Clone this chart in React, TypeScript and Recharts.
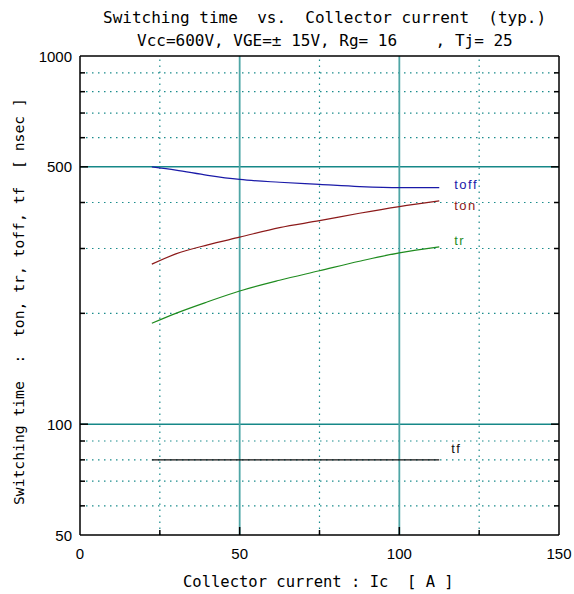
import React from "react";
import {
  LineChart,
  Line,
  XAxis,
  YAxis,
  ReferenceLine,
} from "recharts";

// ---------- data ----------
const currents = [22.5, 30, 40, 50, 62.5, 75, 87.5, 100, 112.5];
const toffValues = [500, 490, 474, 462, 454, 448, 442, 439, 439];
const tonValues = [272, 290, 307, 322, 342, 357, 374, 390, 404];
const trValues = [188, 200, 215, 230, 246, 261, 277, 292, 303];
const tfValues = [80, 80, 80, 80, 80, 80, 80, 80, 80];

const xTicks = [0, 25, 50, 75, 100, 125, 150];
const xTickLabels = [0, 50, 100, 150];
const yTicks = [50, 60, 70, 80, 90, 100, 200, 300, 400, 500, 600, 700, 800, 900, 1000];
const yTickLabels = [50, 100, 500, 1000];
const yMajorGrid = [100, 500];
const yMinorGrid = [60, 70, 80, 90, 200, 300, 400, 600, 700, 800, 900];
const xMajorGrid = [50, 100];
const xMinorGrid = [25, 75, 125];

const titleLine1 = "Switching time  vs.  Collector current  (typ.)";
const titleLine2 = "Vcc=600V, VGE=\u00b1 15V, Rg= 16    , Tj= 25";
const xLabel = "Collector current : Ic  [ A ]";
const yLabel = "Switching time  :  ton, tr, toff, tf  [ nsec ]";

const data = currents.map((ic, i) => ({
  ic,
  toff: toffValues[i],
  ton: tonValues[i],
  tr: trValues[i],
  tf: tfValues[i],
}));

const series = [
  { key: "toff", name: "toff", color: "#1a1aa8", dx: 15, dy: 1 },
  { key: "ton", name: "ton", color: "#8c1a1a", dx: 15, dy: 9 },
  { key: "tr", name: "tr", color: "#1f8c1f", dx: 15, dy: -2 },
  { key: "tf", name: "tf", color: "#111111", dx: 12, dy: -7 },
];

const MONO = "'DejaVu Sans Mono', 'Liberation Mono', monospace";
const SANS = "'Liberation Sans', Arial, sans-serif";
const GRID = "#1b8c8c";
const PRE: React.CSSProperties = { whiteSpace: "pre" };

const LeftTick = (props: any) => {
  const { x, y, payload } = props;
  const v = payload.value;
  const labelled = yTickLabels.includes(v);
  const len = labelled ? 8 : 5;
  const ax = x + 8;
  return (
    <g>
      {v !== 50 && v !== 1000 && (
        <line x1={ax} x2={ax + len} y1={y} y2={y} stroke="#000" strokeWidth={1.5} />
      )}
      {labelled && (
        <text x={x} y={y + 5.5} textAnchor="end" fontFamily={SANS} fontSize={15} fill="#000">
          {v}
        </text>
      )}
    </g>
  );
};

const RightTick = (props: any) => {
  const { x, y, payload } = props;
  const v = payload.value;
  if (v === 50 || v === 1000) return <g />;
  const len = yTickLabels.includes(v) ? 8 : 5;
  return <line x1={x} x2={x - len} y1={y} y2={y} stroke="#000" strokeWidth={1.5} />;
};

const BottomTick = (props: any) => {
  const { x, y, payload } = props;
  const v = payload.value;
  const labelled = xTickLabels.includes(v);
  const ay = y;
  return (
    <g>
      {v !== 0 && v !== 150 && (
        <line x1={x} x2={x} y1={ay} y2={ay - (labelled ? 8 : 5)} stroke="#000" strokeWidth={1.5} />
      )}
      {labelled && (
        <text x={x} y={ay + 24} textAnchor="middle" fontFamily={SANS} fontSize={15} fill="#000">
          {v}
        </text>
      )}
    </g>
  );
};

const makeEndLabel = (s: typeof series[number]) => (props: any) => {
  const { x, y, index } = props;
  if (index !== data.length - 1) return null;
  return (
    <text
      x={x + s.dx}
      y={y + s.dy}
      fontFamily={SANS}
      fontSize={13}
      letterSpacing={1.5}
      fill={s.color}
    >
      {s.name}
    </text>
  );
};

export default function App() {
  return (
    <div style={{ position: "absolute", left: 0, top: 0, width: 574, height: 594, background: "#fff" }}>
      <LineChart
        width={574}
        height={594}
        data={data}
        margin={{ top: 56, right: 0, bottom: 0, left: 0 }}
      >
        <XAxis
          dataKey="ic"
          type="number"
          domain={[0, 150]}
          ticks={xTicks}
          height={59}
          tickSize={0}
          tickMargin={0}
          tickLine={false}
          axisLine={{ stroke: "#000", strokeWidth: 1.5 }}
          tick={<BottomTick />}
          interval={0}
        />
        <YAxis
          yAxisId="left"
          scale="log"
          domain={[50, 1000]}
          allowDataOverflow
          ticks={yTicks}
          width={80}
          tickSize={0}
          tickMargin={8}
          tickLine={false}
          axisLine={{ stroke: "#000", strokeWidth: 1.5 }}
          tick={<LeftTick />}
          interval={0}
        />
        <YAxis
          yAxisId="right"
          orientation="right"
          scale="log"
          domain={[50, 1000]}
          allowDataOverflow
          ticks={yTicks}
          width={15}
          tickSize={0}
          tickMargin={0}
          tickLine={false}
          axisLine={{ stroke: "#000", strokeWidth: 1.5 }}
          tick={<RightTick />}
          interval={0}
        />
        {yMinorGrid.map((v) => (
          <ReferenceLine key={"ym" + v} yAxisId="left" y={v} stroke={GRID} strokeWidth={1.2} strokeDasharray="1.5 4.5" />
        ))}
        {xMinorGrid.map((v) => (
          <ReferenceLine key={"xm" + v} yAxisId="left" x={v} stroke={GRID} strokeWidth={1.2} strokeDasharray="1.5 4.5" />
        ))}
        {yMajorGrid.map((v) => (
          <ReferenceLine key={"yM" + v} yAxisId="left" y={v} stroke="#168888" strokeWidth={1.5} />
        ))}
        {xMajorGrid.map((v) => (
          <ReferenceLine key={"xM" + v} yAxisId="left" x={v} stroke="#4fa6a6" strokeWidth={1.8} />
        ))}
        <ReferenceLine yAxisId="left" y={1000} stroke="#000" strokeWidth={1.5} />
        {series.map((s) => (
          <Line
            key={s.key}
            yAxisId="left"
            dataKey={s.key}
            type="monotone"
            stroke={s.color}
            strokeWidth={1.2}
            dot={false}
            isAnimationActive={false}
            label={makeEndLabel(s)}
          />
        ))}
      </LineChart>
      <svg
        width={574}
        height={594}
        style={{ position: "absolute", left: 0, top: 0, pointerEvents: "none" }}
      >
        <text x={103} y={23} xmlSpace="preserve" style={PRE} fontFamily={MONO} fontSize={16} fill="#000">
          {titleLine1}
        </text>
        <text x={137} y={46} xmlSpace="preserve" style={PRE} fontFamily={MONO} fontSize={16} fill="#000">
          {titleLine2}
        </text>
        <text x={183} y={587} xmlSpace="preserve" style={PRE} fontFamily={MONO} fontSize={15.5} fill="#000">
          {xLabel}
        </text>
        <text
          x={0}
          y={0}
          transform="translate(24 505) rotate(-90)"
          xmlSpace="preserve"
          style={PRE}
          fontFamily={MONO}
          fontSize={14.7}
          fill="#000"
        >
          {yLabel}
        </text>
      </svg>
    </div>
  );
}
